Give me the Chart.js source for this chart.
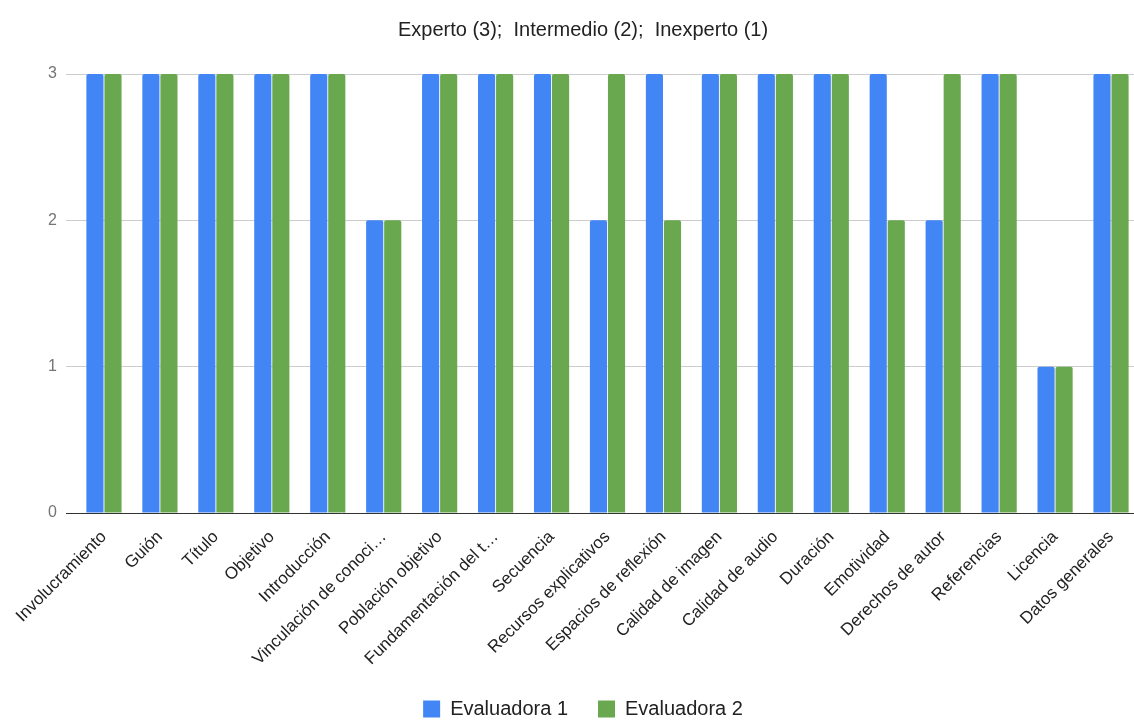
<!DOCTYPE html>
<html lang="es">
<head>
<meta charset="utf-8">
<title>Evaluación</title>
<script src="https://cdn.jsdelivr.net/npm/chart.js@4/dist/chart.umd.min.js"></script>
<style>
    html, body { margin: 0; padding: 0; background: #fff; overflow: hidden; }
    #wrap { position: relative; width: 1166px; height: 729px; }
</style>
</head>
<body>
<div id="wrap"><canvas id="chart1"></canvas></div>
<script>
/** Données */
const categorias = [
    'Involucramiento', 'Guión', 'Título', 'Objetivo', 'Introducción',
    'Vinculación de conoci…', 'Población objetivo', 'Fundamentación del t…',
    'Secuencia', 'Recursos explicativos', 'Espacios de reflexión',
    'Calidad de imagen', 'Calidad de audio', 'Duración', 'Emotividad',
    'Derechos de autor', 'Referencias', 'Licencia', 'Datos generales'
];
const evaluadora1 = [3, 3, 3, 3, 3, 2, 3, 3, 3, 2, 3, 3, 3, 3, 3, 2, 3, 1, 3];
const evaluadora2 = [3, 3, 3, 3, 3, 2, 3, 3, 3, 3, 2, 3, 3, 3, 2, 3, 3, 1, 3];
const nivelesY = [0, 1, 2, 3];

/** Initialisation */
Chart.defaults.font.family = '"Liberation Sans", Arial, sans-serif';
Chart.defaults.font.weight = '400';
Chart.defaults.color = '#222222';

generateChart = (id, config) => new Chart(document.getElementById(id), config)

generateChart('chart1', {
    type: 'bar',
    data: {
        labels: categorias,
        datasets: [{
            label: 'Evaluadora 1',
            data: evaluadora1,
            backgroundColor: '#4285F4',
            borderRadius: { topLeft: 2, topRight: 2 },
            borderSkipped: 'start'
        }, {
            label: 'Evaluadora 2',
            data: evaluadora2,
            backgroundColor: '#6AA84F',
            borderRadius: { topLeft: 2, topRight: 2 },
            borderSkipped: 'start'
        }]
    },
    options: {
        animation: false,
        responsive: true,
        maintainAspectRatio: false,
        categoryPercentage: 0.645,
        barPercentage: 0.95,
        layout: {
            padding: 0
        },
        plugins: {
            title: {
                display: true,
                text: 'Experto (3);  Intermedio (2);  Inexperto (1)',
                color: '#222222',
                font: { size: 20, weight: 'normal' },
                padding: { top: 18, bottom: 32 }
            },
            legend: {
                display: true,
                position: 'bottom',
                labels: {
                    boxWidth: 17,
                    boxHeight: 17,
                    padding: 30,
                    color: '#222222',
                    font: { size: 20 }
                }
            },
            tooltip: { enabled: false }
        },
        scales: {
            x: {
                grid: { display: false },
                border: { display: false },
                ticks: {
                    autoSkip: false,
                    minRotation: 45,
                    maxRotation: 45,
                    padding: 6,
                    color: '#222222',
                    font: { size: 17 }
                },
                afterFit: s => { s.height = 156 }
            },
            y: {
                min: 0,
                max: 3,
                afterBuildTicks: s => { s.ticks = nivelesY.map(v => ({ value: v })) },
                border: { display: false },
                grid: {
                    color: ctx => ctx.tick && ctx.tick.value === 0 ? '#333333' : '#cccccc',
                    tickLength: 10
                },
                ticks: {
                    padding: 9,
                    color: '#757575',
                    font: { size: 16 }
                },
                afterFit: s => { s.width = 76 }
            },
            // marge droite vide
            yVide: {
                position: 'right',
                display: true,
                grid: { display: false },
                border: { display: false },
                ticks: { display: false },
                afterFit: s => { s.width = 27 }
            }
        }
    }
})
</script>
</body>
</html>
